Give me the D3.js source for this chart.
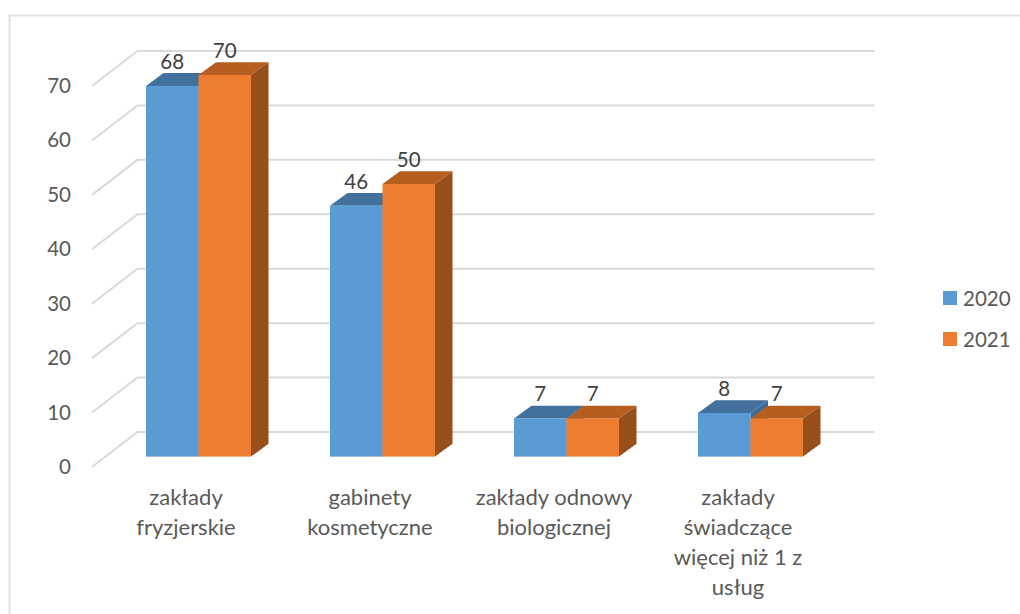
<!DOCTYPE html>
<html><head><meta charset="utf-8">
<script src="https://cdn.jsdelivr.net/npm/d3@7"></script>
<style>html,body{margin:0;background:#fff}svg{display:block}text{font-family:Lato,"Open Sans",sans-serif}</style>
</head><body><div id="c"></div>
<script>
const categories=[["zakłady","fryzjerskie"],["gabinety","kosmetyczne"],["zakłady odnowy","biologicznej"],["zakłady","świadczące","więcej niż 1 z","usług"]];
const seriesNames=["2020","2021"];
const values2020=[68,46,7,8];
const values2021=[70,50,7,7];
const tickValues=[0,10,20,30,40,50,60,70];
const seriesColors=[{front:"#5b9bd5",top:"#41719c",side:"#3f6c94"},{front:"#ed7d31",top:"#b55e20",side:"#974f1b"}];

const W=1020,H=614;
const svg=d3.select("#c").append("svg").attr("width",W).attr("height",H);
svg.append("path").attr("d",`M9.5,${H}V15.5H${W}`).attr("fill","none").attr("stroke","#e1e1e1").attr("stroke-width",2);

const fx=d3.scaleBand().domain(d3.range(categories.length)).range([92,828]);
const wallY=d3.scaleLinear().domain([0,70]).range([467,86]);
const wallDx=45.5,wallDy=35;
const barY=d3.scaleLinear().domain([0,70]).range([456.6,75]);
const barX=d3.scaleBand().domain([0,1]).range([54,159]);
const barDx=17.5,barDy=12.8;
const gridColor="#d9d9d9";

const grid=svg.append("g").attr("fill","none").attr("stroke",gridColor).attr("stroke-width",2);
tickValues.forEach(t=>{
  const y=wallY(t);
  grid.append("path").attr("d",`M${fx.range()[0]},${y}L${fx.range()[0]+wallDx},${y-wallDy}H${fx.range()[1]+wallDx+1}`);
});

svg.append("g").selectAll("text").data(tickValues).join("text")
  .attr("x",71).attr("y",t=>wallY(t)+7).attr("text-anchor","end")
  .attr("font-size",20.5).attr("fill","#595959").text(t=>t);

const series=[values2020,values2021];
const bars=svg.append("g");
categories.forEach((_,i)=>{
  series.forEach((vals,s)=>{
    const x0=fx(i)+barX(s),x1=x0+barX.bandwidth(),yt=barY(vals[i]),yb=barY(0),c=seriesColors[s];
    bars.append("path").attr("fill",c.side).attr("d",`M${x1},${yt}L${x1+barDx},${yt-barDy}V${yb-barDy}L${x1},${yb}Z`);
    bars.append("path").attr("fill",c.top).attr("d",`M${x0},${yt}L${x0+barDx},${yt-barDy}H${x1+barDx}L${x1},${yt}Z`);
    bars.append("rect").attr("fill",c.front).attr("x",x0).attr("y",yt).attr("width",x1-x0).attr("height",yb-yt);
  });
});
categories.forEach((_,i)=>{
  series.forEach((vals,s)=>{
    svg.append("text").attr("x",fx(i)+barX(s)+barX.bandwidth()/2).attr("y",barY(vals[i])-17)
      .attr("text-anchor","middle").attr("font-size",20.5).attr("fill","#404040").text(vals[i]);
  });
});

categories.forEach((lines,i)=>{
  const t=svg.append("text").attr("text-anchor","middle").attr("font-size",22).attr("fill","#595959");
  lines.forEach((l,j)=>t.append("tspan").attr("x",fx(i)+fx.bandwidth()/2+2).attr("y",505+j*30).text(l));
});

const ly=d3.scalePoint().domain(seriesNames).range([291,332]);
seriesNames.forEach((n,s)=>{
  svg.append("rect").attr("x",943).attr("y",ly(n)).attr("width",14).attr("height",14).attr("fill",seriesColors[s].front);
  svg.append("text").attr("x",963).attr("y",ly(n)+14.5).attr("font-size",20.5).attr("fill","#595959").text(n);
});
</script></body></html>
